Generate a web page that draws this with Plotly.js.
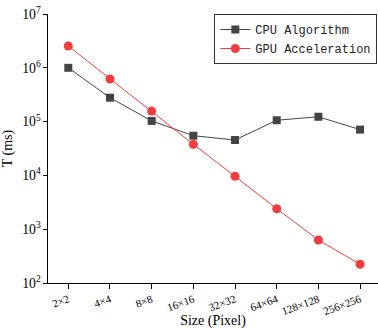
<!DOCTYPE html>
<html>
<head>
<meta charset="utf-8">
<script src="https://cdn.plot.ly/plotly-3.0.1.min.js"></script>
<style>html,body{margin:0;padding:0;background:#fff;}#chart{width:378px;height:329px;}</style>
</head>
<body>
<div id="chart"></div>
<script>
var sizes = ["2×2","4×4","8×8","16×16","32×32","64×64","128×128","256×256"];
var cpuTimes = [1.0e6, 2.78e5, 1.03e5, 5.47e4, 4.55e4, 1.06e5, 1.23e5, 7.1e4];
var gpuTimes = [2.54e6, 6.2e5, 1.57e5, 3.79e4, 9.6e3, 2.4e3, 630, 223];
var cpuName = "CPU Algorithm";
var gpuName = "GPU Acceleration";

var serif = "Liberation Serif, Times New Roman, serif";
var traces = [
  {x: sizes, y: cpuTimes, name: cpuName, type: "scatter", mode: "lines+markers",
   line: {color: "#444444", width: 1}, marker: {symbol: "square", size: 8, color: "#444444"}},
  {x: sizes, y: gpuTimes, name: gpuName, type: "scatter", mode: "lines+markers",
   line: {color: "#f03c3c", width: 1}, marker: {symbol: "circle", size: 9, color: "#f03c3c"}}
];
var layout = {
  width: 378, height: 329,
  margin: {l: 48, r: 0, t: 14, b: 46},
  paper_bgcolor: "#fff", plot_bgcolor: "#fff",
  font: {family: serif, color: "#000"},
  showlegend: true,
  legend: {x: 0.998, y: 1.0, xanchor: "right", yanchor: "top",
    bordercolor: "#333", borderwidth: 1, bgcolor: "#fff",
    font: {family: "Liberation Mono, monospace", size: 12, color: "#222"},
    itemwidth: 30, tracegroupgap: 0},
  xaxis: {
    type: "category", range: [-0.487, 7.43], automargin: false,
    showline: true, linecolor: "#000", linewidth: 1, mirror: false,
    showgrid: false, zeroline: false,
    ticks: "outside", ticklen: 5, tickcolor: "#000",
    tickangle: -20, tickfont: {family: serif, size: 11},
    title: {text: "Size (Pixel)", font: {family: serif, size: 14}, standoff: 8}
  },
  yaxis: {
    type: "log", range: [2, 7], dtick: 1, exponentformat: "power", automargin: false,
    showline: true, linecolor: "#000", linewidth: 1, mirror: false,
    showgrid: false, zeroline: false,
    ticks: "outside", ticklen: 4, tickcolor: "#000",
    tickfont: {family: serif, size: 11},
    title: {text: "T (ms)", font: {family: serif, size: 14}, standoff: 6}
  }
};
Plotly.newPlot("chart", traces, layout, {displayModeBar: false, staticPlot: true});
</script>
</body>
</html>
